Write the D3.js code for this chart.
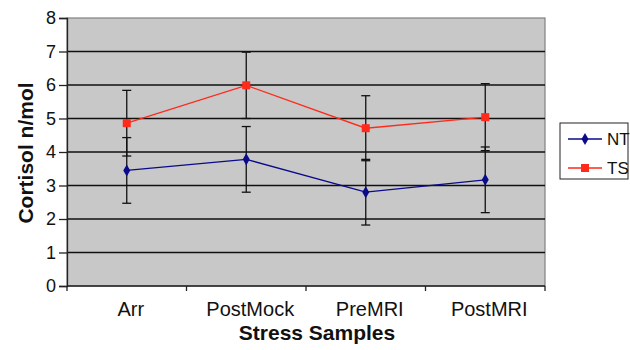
<!DOCTYPE html>
<html>
<head>
<meta charset="utf-8">
<script src="https://cdn.jsdelivr.net/npm/d3@7"></script>
<style>
  html, body { margin: 0; padding: 0; background: #fff; }
  svg { display: block; font-family: "Liberation Sans", Arial, sans-serif; }
</style>
</head>
<body>
<svg id="chart" width="630" height="350"></svg>
<script>
// chart data
const categories = ['Arr', 'PostMock', 'PreMRI', 'PostMRI'];
const ntValues = [3.45, 3.78, 2.80, 3.17];
const ntErrors = [0.98, 0.98, 0.98, 0.98];
const tsValues = [4.86, 5.99, 4.71, 5.04];
const tsErrors = [0.98, 0.99, 0.97, 1.0];
const yTicks = [0, 1, 2, 3, 4, 5, 6, 7, 8];

const series = [
  { name: 'NT', values: ntValues, errors: ntErrors, color: '#0a0a8a', symbol: d3.symbolDiamond },
  { name: 'TS', values: tsValues, errors: tsErrors, color: '#ff2a1a', symbol: d3.symbolSquare }
];

const margin = { top: 18, right: 85, bottom: 64, left: 67 };
const svgEl = d3.select('#chart');
const width = 630 - margin.left - margin.right;
const height = 350 - margin.top - margin.bottom;

const svg = svgEl.append('g')
  .attr('transform', `translate(${margin.left},${margin.top})`);

// scales
const xScale = d3.scaleBand().domain(categories).range([0, width]);
const yScale = d3.scaleLinear().domain([0, 8]).range([height, 0]);

// plot background
svg.append('rect')
  .attr('width', width)
  .attr('height', height)
  .attr('fill', '#c8c8c8')
  .attr('stroke', '#808080')
  .attr('stroke-width', 1.2);

// gridlines
svg.append('g')
  .selectAll('line')
  .data(yTicks.filter(d => d > 0 && d < 8))
  .enter()
  .append('line')
  .attr('x1', 0)
  .attr('x2', width)
  .attr('y1', d => yScale(d))
  .attr('y2', d => yScale(d))
  .attr('stroke', '#111')
  .attr('stroke-width', 1.3);

// y-axis
const yAxis = svg.append('g')
  .call(d3.axisLeft(yScale).tickValues(yTicks).tickSize(8).tickPadding(3).tickFormat(d3.format('d')));
yAxis.select('.domain').attr('stroke', '#222').attr('stroke-width', 1.3);
yAxis.selectAll('.tick line').attr('stroke', '#222').attr('stroke-width', 1.3);
yAxis.selectAll('.tick text').attr('font-size', 18).attr('fill', '#111')
  .attr('font-family', '"Liberation Sans", Arial, sans-serif');

// x-axis with ticks at category boundaries
const xAxis = svg.append('g')
  .attr('transform', `translate(0,${height})`);
xAxis.append('line')
  .attr('x1', 0).attr('x2', width)
  .attr('stroke', '#222').attr('stroke-width', 1.3);
const bounds = categories.map(c => xScale(c)).concat([width]);
xAxis.selectAll('.bound')
  .data(bounds)
  .enter()
  .append('line')
  .attr('x1', d => d).attr('x2', d => d)
  .attr('y1', 0).attr('y2', 5)
  .attr('stroke', '#222').attr('stroke-width', 1.3);
xAxis.selectAll('.cat')
  .data(categories)
  .enter()
  .append('text')
  .attr('x', d => xScale(d) + xScale.bandwidth() / 2 + 4)
  .attr('y', 30)
  .attr('text-anchor', 'middle')
  .attr('font-size', 20)
  .attr('fill', '#111')
  .text(d => d);

// axis titles
svg.append('text')
  .attr('x', width / 2 + 11)
  .attr('y', height + 54)
  .attr('text-anchor', 'middle')
  .attr('font-size', 21)
  .attr('font-weight', 'bold')
  .attr('fill', '#111')
  .text('Stress Samples');

svg.append('text')
  .attr('transform', `translate(${-34},${height / 2 + 1}) rotate(-90)`)
  .attr('text-anchor', 'middle')
  .attr('font-size', 21)
  .attr('font-weight', 'bold')
  .attr('fill', '#111')
  .text('Cortisol n/mol');

const cx = d => xScale(d) + xScale.bandwidth() / 2;

// lines
series.forEach(s => {
  const line = d3.line()
    .x((d, i) => cx(categories[i]))
    .y(d => yScale(d));
  svg.append('path')
    .datum(s.values)
    .attr('d', line)
    .attr('fill', 'none')
    .attr('stroke', s.color)
    .attr('stroke-width', 1.3);
});

// error bars
series.forEach(s => {
  const g = svg.append('g');
  s.values.forEach((v, i) => {
    const x = cx(categories[i]);
    const lo = yScale(v - s.errors[i]);
    const hi = yScale(v + s.errors[i]);
    g.append('line').attr('x1', x).attr('x2', x).attr('y1', lo).attr('y2', hi)
      .attr('stroke', '#111').attr('stroke-width', 1.3);
    [lo, hi].forEach(y => {
      g.append('line').attr('x1', x - 4.5).attr('x2', x + 4.5).attr('y1', y).attr('y2', y)
        .attr('stroke', '#111').attr('stroke-width', 1.3);
    });
  });
});

// markers
series.forEach(s => {
  svg.append('g')
    .selectAll('path')
    .data(s.values)
    .enter()
    .append('path')
    .attr('transform', (d, i) => `translate(${cx(categories[i])},${yScale(d)})`)
    .attr('d', d3.symbol().type(s.symbol).size(s.name === 'NT' ? 42 : 64))
    .attr('fill', s.color);
});

// legend
const legend = svgEl.append('g').attr('transform', 'translate(560,123)');
legend.append('rect')
  .attr('width', 68)
  .attr('height', 56)
  .attr('fill', '#fff')
  .attr('stroke', '#222')
  .attr('stroke-width', 1);
series.forEach((s, i) => {
  const y = 16 + i * 29;
  legend.append('line')
    .attr('x1', 8).attr('x2', 42).attr('y1', y).attr('y2', y)
    .attr('stroke', s.color).attr('stroke-width', 1.3);
  legend.append('path')
    .attr('transform', `translate(25,${y})`)
    .attr('d', d3.symbol().type(s.symbol).size(s.name === 'NT' ? 42 : 64))
    .attr('fill', s.color);
  legend.append('text')
    .attr('x', 47)
    .attr('y', y + 6)
    .attr('font-size', 17)
    .attr('fill', '#111')
    .text(s.name);
});
</script>
</body>
</html>
